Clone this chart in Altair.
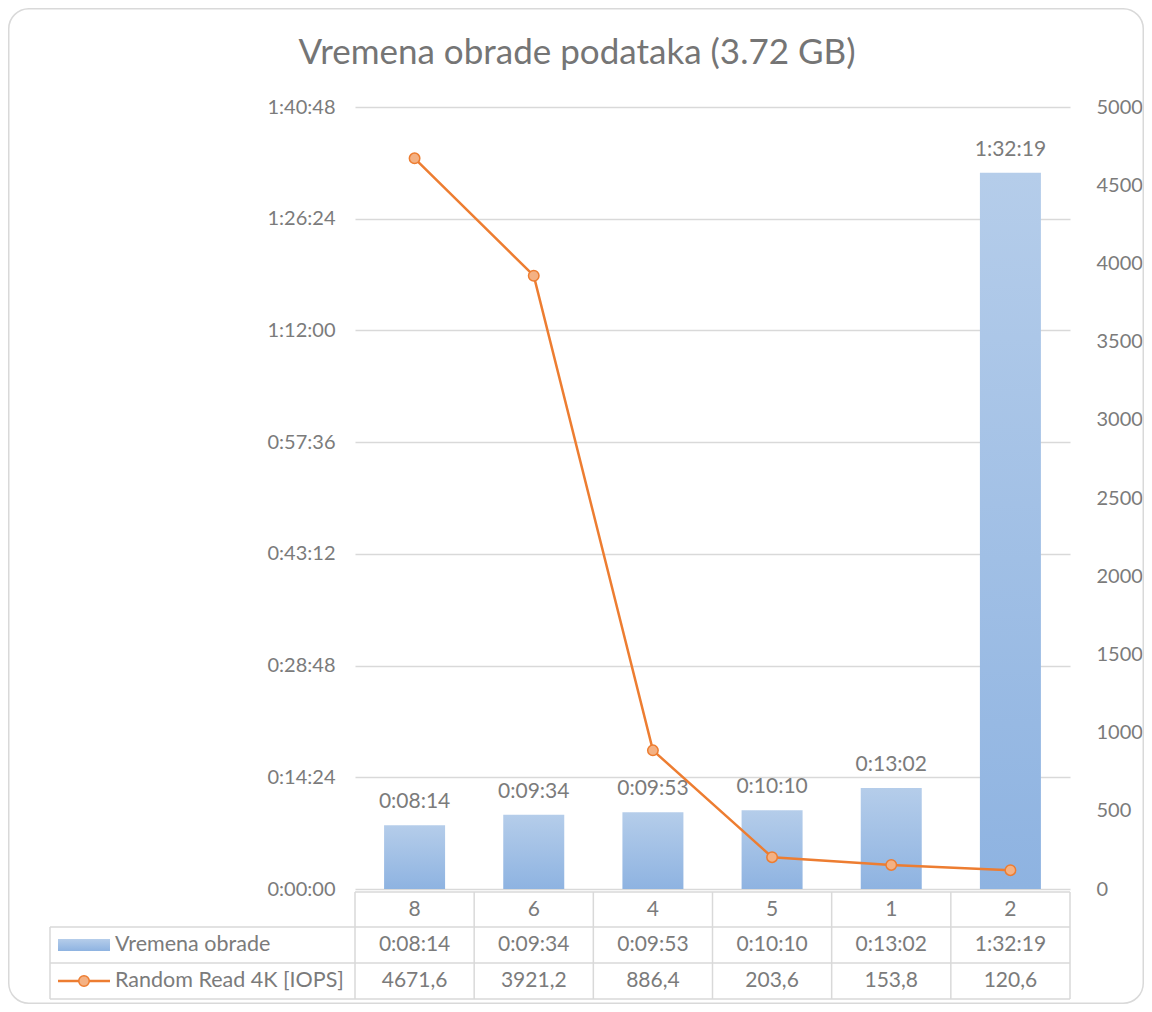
import altair as alt
import pandas as pd

# ---- data ----
categories = ["8", "6", "4", "5", "1", "2"]
time_labels = ["0:08:14", "0:09:34", "0:09:53", "0:10:10", "0:13:02", "1:32:19"]
iops = [4671.6, 3921.2, 886.4, 203.6, 153.8, 120.6]
left_tick_seconds = [0, 864, 1728, 2592, 3456, 4320, 5184, 6048]
right_ticks = [0, 500, 1000, 1500, 2000, 2500, 3000, 3500, 4000, 4500, 5000]
title_text = "Vremena obrade podataka (3.72 GB)"
series_names = ["Vremena obrade", "Random Read 4K [IOPS]"]


def to_sec(s):
    h, m, sec = s.split(":")
    return int(h) * 3600 + int(m) * 60 + int(sec)


df = pd.DataFrame({
    "cat": categories,
    "sec": [to_sec(t) for t in time_labels],
    "tlabel": time_labels,
    "iops": iops,
    "iops_label": [str(v).replace(".", ",") for v in iops],
})
one = pd.DataFrame({"k": [0]})

FONT = "Lato"
TXT = "#7b7b7b"
GRID = "#d9d9d9"
ORANGE = "#ed7d31"
W, H = 715, 782

# table geometry (plot-relative pixels)
T_TOP, T_R1, T_R2, T_BOT = 785, 820, 856, 892
T_LEFT = -305

grad = alt.Gradient(
    gradient="linear",
    stops=[alt.GradientStop(color="#b5cdea", offset=0),
           alt.GradientStop(color="#8eb3e1", offset=1)],
    x1=0, x2=0, y1=0, y2=1,
)

xscale = alt.Scale(paddingInner=0, paddingOuter=0)
x_enc = alt.X("cat:N", sort=categories, scale=xscale, axis=None)

time_expr = ("floor(datum.value/3600) + ':' + "
             "(floor((datum.value%3600)/60) < 10 ? '0' : '') + floor((datum.value%3600)/60) + ':' + "
             "((datum.value%60) < 10 ? '0' : '') + (datum.value%60)")

yscale_t = alt.Scale(domain=[0, 6048], nice=False, zero=True)
yscale_i = alt.Scale(domain=[0, 5000], nice=False, zero=True)

base = alt.Chart(df)

frame = alt.Chart(one).mark_rect(
    fillOpacity=0, stroke=GRID, strokeWidth=1.5, cornerRadius=20
).encode(x=alt.value(-346.25), x2=alt.value(788.25),
         y=alt.value(-98.25), y2=alt.value(896.25))

title = alt.Chart(one).mark_text(
    font=FONT, fontSize=35, color="#757575", align="center", baseline="middle"
).encode(x=alt.value(222), y=alt.value(-54), text=alt.value(title_text))

bars = base.mark_bar(width=61, color=grad).encode(
    x=x_enc,
    y=alt.Y("sec:Q", scale=yscale_t,
            axis=alt.Axis(orient="left", values=left_tick_seconds, labelExpr=time_expr,
                          grid=True, gridColor=GRID, gridWidth=1.5, domain=False,
                          ticks=False, labelPadding=20, title=None,
                          labelFont=FONT, labelFontSize=20, labelColor=TXT)),
)

bar_labels = base.mark_text(
    font=FONT, fontSize=21, color=TXT, dy=-17, baseline="alphabetic", align="center"
).encode(x=x_enc, y=alt.Y("sec:Q", scale=yscale_t, axis=None), text="tlabel:N")

line = base.mark_line(color=ORANGE, strokeWidth=2.5).encode(
    x=x_enc,
    y=alt.Y("iops:Q", scale=yscale_i,
            axis=alt.Axis(orient="right", values=right_ticks, format="d", grid=False,
                          domain=False, ticks=False, labelPadding=26, title=None,
                          labelFont=FONT, labelFontSize=20, labelColor=TXT)),
)

points = base.mark_point(
    filled=True, fill="#f4b183", stroke=ORANGE, strokeWidth=1.5, size=110, opacity=1
).encode(x=x_enc, y=alt.Y("iops:Q", scale=yscale_i, axis=None))

# ---- data table ----
rule_style = dict(color=GRID, strokeWidth=1.5)
vrules = base.mark_rule(**rule_style).encode(
    x=alt.X("cat:N", sort=categories, scale=xscale, axis=None, bandPosition=0),
    y=alt.value(T_TOP), y2=alt.value(T_BOT))
right_edge = alt.Chart(one).mark_rule(**rule_style).encode(
    x=alt.value(W), y=alt.value(T_TOP), y2=alt.value(T_BOT))
left_edge = alt.Chart(one).mark_rule(**rule_style).encode(
    x=alt.value(T_LEFT), y=alt.value(T_R1), y2=alt.value(T_BOT))
top_rule = alt.Chart(one).mark_rule(**rule_style).encode(
    x=alt.value(0), x2=alt.value(W), y=alt.value(T_TOP))
hrules = [alt.Chart(one).mark_rule(**rule_style).encode(
    x=alt.value(T_LEFT), x2=alt.value(W), y=alt.value(yy)) for yy in (T_R1, T_R2, T_BOT)]

cell = dict(font=FONT, fontSize=21, color=TXT, align="center", baseline="middle")
cat_text = base.mark_text(**cell).encode(
    x=x_enc, y=alt.value((T_TOP + T_R1) / 2), text="cat:N")
time_text = base.mark_text(**cell).encode(
    x=x_enc, y=alt.value((T_R1 + T_R2) / 2), text="tlabel:N")
iops_text = base.mark_text(**cell).encode(
    x=x_enc, y=alt.value((T_R2 + T_BOT) / 2), text="iops_label:N")

row_lbl = dict(font=FONT, fontSize=21.5, color=TXT, align="left", baseline="middle")
name1 = alt.Chart(one).mark_text(**row_lbl).encode(
    x=alt.value(-240), y=alt.value((T_R1 + T_R2) / 2), text=alt.value(series_names[0]))
name2 = alt.Chart(one).mark_text(**row_lbl).encode(
    x=alt.value(-240), y=alt.value((T_R2 + T_BOT) / 2), text=alt.value(series_names[1]))

sym_bar = alt.Chart(one).mark_rect(color=grad).encode(
    x=alt.value(-297), x2=alt.value(-245),
    y=alt.value((T_R1 + T_R2) / 2 - 6), y2=alt.value((T_R1 + T_R2) / 2 + 6))
sym_line = alt.Chart(one).mark_rule(color=ORANGE, strokeWidth=2.5).encode(
    x=alt.value(-297), x2=alt.value(-245), y=alt.value((T_R2 + T_BOT) / 2))
sym_pt = alt.Chart(one).mark_point(
    filled=True, fill="#f4b183", stroke=ORANGE, strokeWidth=1.5, size=110, opacity=1
).encode(x=alt.value(-271), y=alt.value((T_R2 + T_BOT) / 2))

chart = alt.layer(
    frame, title, bars, bar_labels, line, points,
    vrules, right_edge, left_edge, top_rule, *hrules,
    cat_text, time_text, iops_text, name1, name2, sym_bar, sym_line, sym_pt,
).resolve_scale(y="independent").properties(
    width=W, height=H,
    autosize=alt.AutoSizeParams(type="none"),
    padding={"left": 347, "top": 99, "right": 74, "bottom": 115},
    background="white",
).configure_view(stroke=None)

chart.save("out.html", embed_options={"renderer": "svg", "actions": False})
